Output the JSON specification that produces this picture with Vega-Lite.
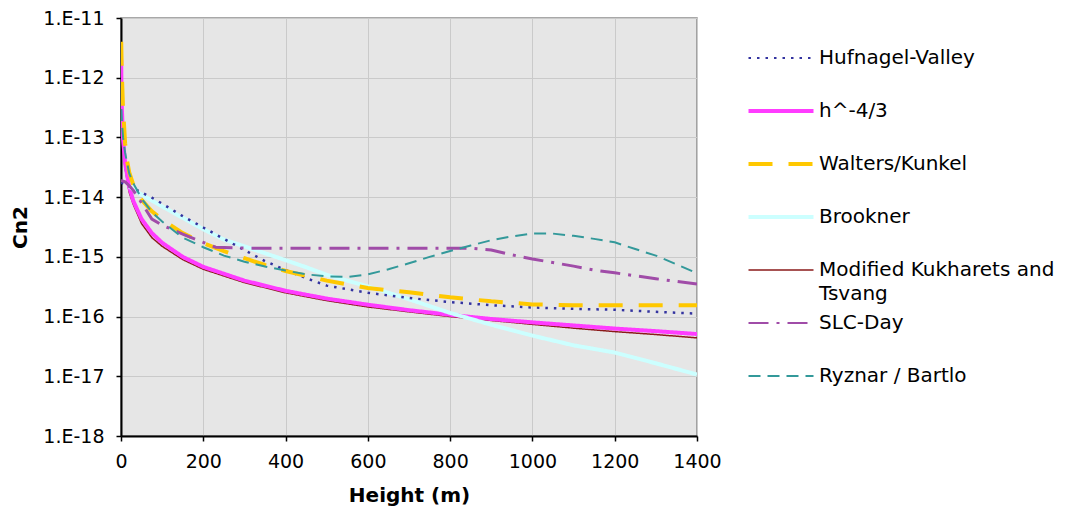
{
  "$schema": "https://vega.github.io/schema/vega-lite/v6.json",
  "autosize": {"type": "none"},
  "padding": {"left": 121, "top": 18, "right": 371, "bottom": 74},
  "width": 576,
  "height": 418,
  "background": "#ffffff",
  "config": {
    "font": "DejaVu Sans",
    "view": {"fill": "#E6E6E6", "stroke": "#8C8C8C", "strokeWidth": 1.5},
    "axis": {
      "labelFont": "DejaVu Sans",
      "labelFontSize": 19,
      "labelColor": "#000000",
      "titleFont": "DejaVu Sans",
      "titleFontSize": 20,
      "titleFontWeight": "bold",
      "titleColor": "#000000",
      "domainColor": "#000000",
      "domainWidth": 2,
      "tickColor": "#000000",
      "tickWidth": 1.5,
      "tickSize": 5,
      "gridColor": "#CACACA",
      "gridWidth": 1
    },
    "legend": {
      "labelFont": "DejaVu Sans",
      "labelFontSize": 20,
      "labelColor": "#000000"
    }
  },
  "data": {
    "values": [
      {"s": "Modified Kukharets and Tsvang", "h": 0, "v": 1.3e-13},
      {"s": "Modified Kukharets and Tsvang", "h": 2, "v": 1.0e-13},
      {"s": "Modified Kukharets and Tsvang", "h": 5, "v": 6.0e-14},
      {"s": "Modified Kukharets and Tsvang", "h": 10, "v": 3.0e-14},
      {"s": "Modified Kukharets and Tsvang", "h": 20, "v": 1.2e-14},
      {"s": "Modified Kukharets and Tsvang", "h": 30, "v": 7.5e-15},
      {"s": "Modified Kukharets and Tsvang", "h": 50, "v": 3.6e-15},
      {"s": "Modified Kukharets and Tsvang", "h": 75, "v": 2.1e-15},
      {"s": "Modified Kukharets and Tsvang", "h": 100, "v": 1.5e-15},
      {"s": "Modified Kukharets and Tsvang", "h": 150, "v": 9.0e-16},
      {"s": "Modified Kukharets and Tsvang", "h": 200, "v": 6.2e-16},
      {"s": "Modified Kukharets and Tsvang", "h": 300, "v": 3.7e-16},
      {"s": "Modified Kukharets and Tsvang", "h": 400, "v": 2.5e-16},
      {"s": "Modified Kukharets and Tsvang", "h": 500, "v": 1.85e-16},
      {"s": "Modified Kukharets and Tsvang", "h": 600, "v": 1.45e-16},
      {"s": "Modified Kukharets and Tsvang", "h": 700, "v": 1.2e-16},
      {"s": "Modified Kukharets and Tsvang", "h": 800, "v": 1.0e-16},
      {"s": "Modified Kukharets and Tsvang", "h": 900, "v": 8.6e-17},
      {"s": "Modified Kukharets and Tsvang", "h": 1000, "v": 7.4e-17},
      {"s": "Modified Kukharets and Tsvang", "h": 1100, "v": 6.4e-17},
      {"s": "Modified Kukharets and Tsvang", "h": 1200, "v": 5.6e-17},
      {"s": "Modified Kukharets and Tsvang", "h": 1300, "v": 5.0e-17},
      {"s": "Modified Kukharets and Tsvang", "h": 1400, "v": 4.4e-17},

      {"s": "h^-4/3", "h": 0.5, "v": 2.0e-12},
      {"s": "h^-4/3", "h": 1, "v": 8.0e-13},
      {"s": "h^-4/3", "h": 2, "v": 3.2e-13},
      {"s": "h^-4/3", "h": 5, "v": 9.4e-14},
      {"s": "h^-4/3", "h": 10, "v": 3.7e-14},
      {"s": "h^-4/3", "h": 20, "v": 1.47e-14},
      {"s": "h^-4/3", "h": 30, "v": 8.6e-15},
      {"s": "h^-4/3", "h": 50, "v": 4.3e-15},
      {"s": "h^-4/3", "h": 75, "v": 2.5e-15},
      {"s": "h^-4/3", "h": 100, "v": 1.72e-15},
      {"s": "h^-4/3", "h": 150, "v": 1.0e-15},
      {"s": "h^-4/3", "h": 200, "v": 6.8e-16},
      {"s": "h^-4/3", "h": 300, "v": 4.0e-16},
      {"s": "h^-4/3", "h": 400, "v": 2.7e-16},
      {"s": "h^-4/3", "h": 500, "v": 2.0e-16},
      {"s": "h^-4/3", "h": 600, "v": 1.58e-16},
      {"s": "h^-4/3", "h": 700, "v": 1.28e-16},
      {"s": "h^-4/3", "h": 800, "v": 1.07e-16},
      {"s": "h^-4/3", "h": 900, "v": 9.1e-17},
      {"s": "h^-4/3", "h": 1000, "v": 8.0e-17},
      {"s": "h^-4/3", "h": 1100, "v": 7.1e-17},
      {"s": "h^-4/3", "h": 1200, "v": 6.3e-17},
      {"s": "h^-4/3", "h": 1300, "v": 5.7e-17},
      {"s": "h^-4/3", "h": 1400, "v": 5.1e-17},

      {"s": "Brookner", "h": 20, "v": 1.5e-14},
      {"s": "Brookner", "h": 30, "v": 1.35e-14},
      {"s": "Brookner", "h": 50, "v": 1.1e-14},
      {"s": "Brookner", "h": 75, "v": 8.8e-15},
      {"s": "Brookner", "h": 100, "v": 7.0e-15},
      {"s": "Brookner", "h": 150, "v": 4.5e-15},
      {"s": "Brookner", "h": 200, "v": 2.9e-15},
      {"s": "Brookner", "h": 250, "v": 1.95e-15},
      {"s": "Brookner", "h": 300, "v": 1.5e-15},
      {"s": "Brookner", "h": 350, "v": 1.15e-15},
      {"s": "Brookner", "h": 400, "v": 8.8e-16},
      {"s": "Brookner", "h": 450, "v": 6.7e-16},
      {"s": "Brookner", "h": 500, "v": 5.0e-16},
      {"s": "Brookner", "h": 600, "v": 3.2e-16},
      {"s": "Brookner", "h": 700, "v": 1.95e-16},
      {"s": "Brookner", "h": 800, "v": 1.15e-16},
      {"s": "Brookner", "h": 900, "v": 7.3e-17},
      {"s": "Brookner", "h": 1000, "v": 4.8e-17},
      {"s": "Brookner", "h": 1100, "v": 3.3e-17},
      {"s": "Brookner", "h": 1200, "v": 2.5e-17},
      {"s": "Brookner", "h": 1300, "v": 1.65e-17},
      {"s": "Brookner", "h": 1400, "v": 1.07e-17},

      {"s": "Hufnagel-Valley", "h": 0, "v": 1.75e-14},
      {"s": "Hufnagel-Valley", "h": 10, "v": 1.65e-14},
      {"s": "Hufnagel-Valley", "h": 25, "v": 1.45e-14},
      {"s": "Hufnagel-Valley", "h": 50, "v": 1.2e-14},
      {"s": "Hufnagel-Valley", "h": 75, "v": 9.8e-15},
      {"s": "Hufnagel-Valley", "h": 100, "v": 7.8e-15},
      {"s": "Hufnagel-Valley", "h": 150, "v": 4.8e-15},
      {"s": "Hufnagel-Valley", "h": 200, "v": 3.1e-15},
      {"s": "Hufnagel-Valley", "h": 250, "v": 2.0e-15},
      {"s": "Hufnagel-Valley", "h": 300, "v": 1.3e-15},
      {"s": "Hufnagel-Valley", "h": 350, "v": 8.5e-16},
      {"s": "Hufnagel-Valley", "h": 400, "v": 6.0e-16},
      {"s": "Hufnagel-Valley", "h": 450, "v": 4.4e-16},
      {"s": "Hufnagel-Valley", "h": 500, "v": 3.3e-16},
      {"s": "Hufnagel-Valley", "h": 600, "v": 2.5e-16},
      {"s": "Hufnagel-Valley", "h": 700, "v": 2.05e-16},
      {"s": "Hufnagel-Valley", "h": 800, "v": 1.75e-16},
      {"s": "Hufnagel-Valley", "h": 900, "v": 1.55e-16},
      {"s": "Hufnagel-Valley", "h": 1000, "v": 1.42e-16},
      {"s": "Hufnagel-Valley", "h": 1100, "v": 1.35e-16},
      {"s": "Hufnagel-Valley", "h": 1200, "v": 1.3e-16},
      {"s": "Hufnagel-Valley", "h": 1300, "v": 1.2e-16},
      {"s": "Hufnagel-Valley", "h": 1400, "v": 1.12e-16},

      {"s": "Walters/Kunkel", "h": 0.5, "v": 4.0e-12},
      {"s": "Walters/Kunkel", "h": 2, "v": 1.2e-12},
      {"s": "Walters/Kunkel", "h": 5, "v": 3.0e-13},
      {"s": "Walters/Kunkel", "h": 10, "v": 8.0e-14},
      {"s": "Walters/Kunkel", "h": 15, "v": 4.0e-14},
      {"s": "Walters/Kunkel", "h": 20, "v": 2.6e-14},
      {"s": "Walters/Kunkel", "h": 30, "v": 1.6e-14},
      {"s": "Walters/Kunkel", "h": 50, "v": 9.0e-15},
      {"s": "Walters/Kunkel", "h": 75, "v": 5.8e-15},
      {"s": "Walters/Kunkel", "h": 100, "v": 4.2e-15},
      {"s": "Walters/Kunkel", "h": 150, "v": 2.5e-15},
      {"s": "Walters/Kunkel", "h": 200, "v": 1.7e-15},
      {"s": "Walters/Kunkel", "h": 250, "v": 1.25e-15},
      {"s": "Walters/Kunkel", "h": 300, "v": 9.5e-16},
      {"s": "Walters/Kunkel", "h": 350, "v": 7.3e-16},
      {"s": "Walters/Kunkel", "h": 400, "v": 5.8e-16},
      {"s": "Walters/Kunkel", "h": 450, "v": 4.8e-16},
      {"s": "Walters/Kunkel", "h": 500, "v": 4.0e-16},
      {"s": "Walters/Kunkel", "h": 600, "v": 3.0e-16},
      {"s": "Walters/Kunkel", "h": 700, "v": 2.55e-16},
      {"s": "Walters/Kunkel", "h": 800, "v": 2.1e-16},
      {"s": "Walters/Kunkel", "h": 900, "v": 1.8e-16},
      {"s": "Walters/Kunkel", "h": 1000, "v": 1.6e-16},
      {"s": "Walters/Kunkel", "h": 1100, "v": 1.55e-16},
      {"s": "Walters/Kunkel", "h": 1200, "v": 1.55e-16},
      {"s": "Walters/Kunkel", "h": 1300, "v": 1.55e-16},
      {"s": "Walters/Kunkel", "h": 1400, "v": 1.55e-16},

      {"s": "SLC-Day", "h": 0, "v": 1.9e-14},
      {"s": "SLC-Day", "h": 10, "v": 1.8e-14},
      {"s": "SLC-Day", "h": 20, "v": 1.55e-14},
      {"s": "SLC-Day", "h": 30, "v": 1.3e-14},
      {"s": "SLC-Day", "h": 50, "v": 8.0e-15},
      {"s": "SLC-Day", "h": 75, "v": 4.3e-15},
      {"s": "SLC-Day", "h": 100, "v": 3.4e-15},
      {"s": "SLC-Day", "h": 150, "v": 2.4e-15},
      {"s": "SLC-Day", "h": 200, "v": 1.75e-15},
      {"s": "SLC-Day", "h": 230, "v": 1.45e-15},
      {"s": "SLC-Day", "h": 300, "v": 1.4e-15},
      {"s": "SLC-Day", "h": 500, "v": 1.4e-15},
      {"s": "SLC-Day", "h": 700, "v": 1.4e-15},
      {"s": "SLC-Day", "h": 850, "v": 1.4e-15},
      {"s": "SLC-Day", "h": 900, "v": 1.3e-15},
      {"s": "SLC-Day", "h": 950, "v": 1.08e-15},
      {"s": "SLC-Day", "h": 1000, "v": 9.2e-16},
      {"s": "SLC-Day", "h": 1100, "v": 7.0e-16},
      {"s": "SLC-Day", "h": 1150, "v": 6.0e-16},
      {"s": "SLC-Day", "h": 1200, "v": 5.4e-16},
      {"s": "SLC-Day", "h": 1300, "v": 4.3e-16},
      {"s": "SLC-Day", "h": 1400, "v": 3.5e-16},

      {"s": "Ryznar / Bartlo", "h": 1, "v": 3.0e-13},
      {"s": "Ryznar / Bartlo", "h": 3, "v": 1.5e-13},
      {"s": "Ryznar / Bartlo", "h": 5, "v": 1.0e-13},
      {"s": "Ryznar / Bartlo", "h": 10, "v": 5.5e-14},
      {"s": "Ryznar / Bartlo", "h": 20, "v": 2.5e-14},
      {"s": "Ryznar / Bartlo", "h": 30, "v": 1.7e-14},
      {"s": "Ryznar / Bartlo", "h": 50, "v": 9.5e-15},
      {"s": "Ryznar / Bartlo", "h": 75, "v": 5.6e-15},
      {"s": "Ryznar / Bartlo", "h": 100, "v": 3.9e-15},
      {"s": "Ryznar / Bartlo", "h": 150, "v": 2.1e-15},
      {"s": "Ryznar / Bartlo", "h": 200, "v": 1.45e-15},
      {"s": "Ryznar / Bartlo", "h": 250, "v": 1.05e-15},
      {"s": "Ryznar / Bartlo", "h": 300, "v": 8.3e-16},
      {"s": "Ryznar / Bartlo", "h": 350, "v": 6.9e-16},
      {"s": "Ryznar / Bartlo", "h": 400, "v": 5.9e-16},
      {"s": "Ryznar / Bartlo", "h": 450, "v": 5.1e-16},
      {"s": "Ryznar / Bartlo", "h": 500, "v": 4.7e-16},
      {"s": "Ryznar / Bartlo", "h": 550, "v": 4.6e-16},
      {"s": "Ryznar / Bartlo", "h": 600, "v": 5.1e-16},
      {"s": "Ryznar / Bartlo", "h": 650, "v": 6.2e-16},
      {"s": "Ryznar / Bartlo", "h": 700, "v": 7.8e-16},
      {"s": "Ryznar / Bartlo", "h": 750, "v": 1.0e-15},
      {"s": "Ryznar / Bartlo", "h": 800, "v": 1.25e-15},
      {"s": "Ryznar / Bartlo", "h": 850, "v": 1.55e-15},
      {"s": "Ryznar / Bartlo", "h": 900, "v": 1.9e-15},
      {"s": "Ryznar / Bartlo", "h": 950, "v": 2.2e-15},
      {"s": "Ryznar / Bartlo", "h": 1000, "v": 2.45e-15},
      {"s": "Ryznar / Bartlo", "h": 1050, "v": 2.45e-15},
      {"s": "Ryznar / Bartlo", "h": 1100, "v": 2.25e-15},
      {"s": "Ryznar / Bartlo", "h": 1150, "v": 2.0e-15},
      {"s": "Ryznar / Bartlo", "h": 1200, "v": 1.75e-15},
      {"s": "Ryznar / Bartlo", "h": 1250, "v": 1.35e-15},
      {"s": "Ryznar / Bartlo", "h": 1300, "v": 1.05e-15},
      {"s": "Ryznar / Bartlo", "h": 1350, "v": 7.5e-16},
      {"s": "Ryznar / Bartlo", "h": 1400, "v": 5.3e-16}
    ]
  },
  "mark": {"type": "line", "clip": true, "strokeCap": "butt"},
  "encoding": {
    "x": {
      "field": "h",
      "type": "quantitative",
      "title": "Height (m)",
      "scale": {"domain": [0, 1400], "nice": false},
      "axis": {
        "values": [0, 200, 400, 600, 800, 1000, 1200, 1400],
        "labelFlush": false,
        "labelOverlap": false,
        "labelPadding": 11,
        "titlePadding": 14,
        "format": "d"
      }
    },
    "y": {
      "field": "v",
      "type": "quantitative",
      "title": "Cn2",
      "scale": {"type": "log", "domain": [1e-18, 1e-11], "nice": false},
      "axis": {
        "values": [1e-18, 1e-17, 1e-16, 1e-15, 1e-14, 1e-13, 1e-12, 1e-11],
        "labelExpr": "'1.E-' + round(-log(datum.value)/LN10)",
        "labelFlush": false,
        "labelOverlap": false,
        "labelPadding": 12,
        "titlePadding": 12
      }
    },
    "color": {
      "field": "s",
      "type": "nominal",
      "title": null,
      "scale": {
        "domain": ["Hufnagel-Valley", "h^-4/3", "Walters/Kunkel", "Brookner", "Modified Kukharets and Tsvang", "SLC-Day", "Ryznar / Bartlo"],
        "range": ["#3333A0", "#FF3CFF", "#FFC800", "#CCFFFF", "#8B1A1A", "#A04CA8", "#33999A"]
      },
      "legend": {
        "orient": "none",
        "legendX": 627,
        "legendY": 30,
        "padding": 0,
        "symbolType": "stroke",
        "symbolSize": 4225,
        "symbolOffset": 23,
        "labelOffset": 28,
        "rowPadding": 9,
        "labelLimit": 400,
        "labelExpr": "[datum.label == 'Modified Kukharets and Tsvang' ? 'Modified Kukharets and' : datum.label, datum.label == 'Modified Kukharets and Tsvang' ? 'Tsvang' : ' ']",
        "encode": {
          "labels": {"update": {"lineHeight": {"value": 24}}},
          "symbols": {"update": {"strokeWidth": {"signal": "datum.value == 'Modified Kukharets and Tsvang' ? 1.5 : datum.value == 'Hufnagel-Valley' ? 2 : datum.value == 'SLC-Day' ? 2 : datum.value == 'Ryznar / Bartlo' ? 2 : 4"}}}
        }
      }
    },
    "strokeDash": {
      "field": "s",
      "type": "nominal",
      "title": null,
      "scale": {
        "domain": ["Hufnagel-Valley", "h^-4/3", "Walters/Kunkel", "Brookner", "Modified Kukharets and Tsvang", "SLC-Day", "Ryznar / Bartlo"],
        "range": [[2.5, 6], [1, 0], [24, 16], [1, 0], [1, 0], [20, 8, 3, 8], [12, 7]]
      }
    },
    "strokeWidth": {
      "condition": [
        {"test": "datum.s == 'Hufnagel-Valley'", "value": 2.5},
        {"test": "datum.s == 'Modified Kukharets and Tsvang'", "value": 1.5},
        {"test": "datum.s == 'SLC-Day'", "value": 3},
        {"test": "datum.s == 'Ryznar / Bartlo'", "value": 2}
      ],
      "value": 4
    }
  }
}
